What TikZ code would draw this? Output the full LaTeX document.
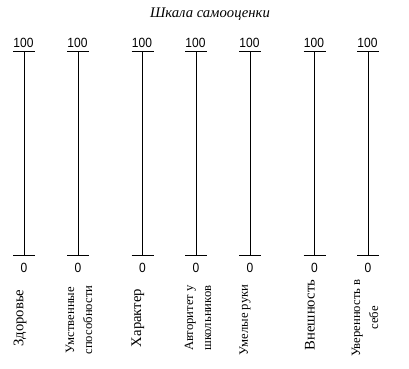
\documentclass[tikz,border=0pt]{standalone}
\usepackage{fontspec}
\setmainfont{Liberation Serif}
\newfontfamily\numfont[FakeStretch=0.9]{Liberation Sans}

\tikzset{every picture/.style={line width=0.75pt}}
\tikzset{
  scalemax/.style={inner sep=0.75pt, font=\numfont\fontsize{10}{12}\selectfont},
  scalemin/.style={inner sep=0.75pt, font=\numfont\fontsize{10}{12}\selectfont},
  biglbl/.style={inner sep=0.75pt, rotate=90, font=\fontsize{11}{13}\selectfont},
  smalllbl/.style={inner sep=0.75pt, rotate=90, align=center, font=\fontsize{9.5}{13.5}\selectfont},
}

\begin{document}
\begin{tikzpicture}[x=0.75pt,y=0.75pt,yscale=-1,xscale=1]
  \path[use as bounding box] (0,0) rectangle (409,368);

  %Title
  \draw (210,14) node [inner sep=0.75pt, font=\itshape\fontsize{11}{13}\selectfont] (title) {Шкала самооценки};

  %Scale 1
  \coordinate (top1) at (24,51.5);
  \coordinate (bot1) at (24,255);
  \draw (top1) -- (bot1);
  \draw (13,51.5) -- (35,51.5);
  \draw (13,255) -- (35,255);
  \draw (23.5,43) node [scalemax] (max1) {100};
  \draw (24,268) node [scalemin] (min1) {0};
  \draw (20,318) node [biglbl] (lab1) {Здоровье};

  %Scale 2
  \coordinate (top2) at (78,51.5);
  \coordinate (bot2) at (78,255);
  \draw (top2) -- (bot2);
  \draw (67,51.5) -- (89,51.5);
  \draw (67,255) -- (89,255);
  \draw (77.5,43) node [scalemax] (max2) {100};
  \draw (78,268) node [scalemin] (min2) {0};
  \draw (79,320) node [smalllbl] (lab2) {Умственные\\способности};

  %Scale 3
  \coordinate (top3) at (142.5,51.5);
  \coordinate (bot3) at (142.5,255);
  \draw (top3) -- (bot3);
  \draw (131.5,51.5) -- (153.5,51.5);
  \draw (131.5,255) -- (153.5,255);
  \draw (142,43) node [scalemax] (max3) {100};
  \draw (142.5,268) node [scalemin] (min3) {0};
  \draw (138,318) node [biglbl] (lab3) {Характер};

  %Scale 4
  \coordinate (top4) at (196,51.5);
  \coordinate (bot4) at (196,255);
  \draw (top4) -- (bot4);
  \draw (185,51.5) -- (207,51.5);
  \draw (185,255) -- (207,255);
  \draw (195.5,43) node [scalemax] (max4) {100};
  \draw (196,268) node [scalemin] (min4) {0};
  \draw (198,318) node [smalllbl] (lab4) {Авторитет у\\школьников};

  %Scale 5
  \coordinate (top5) at (250,51.5);
  \coordinate (bot5) at (250,255);
  \draw (top5) -- (bot5);
  \draw (239,51.5) -- (261,51.5);
  \draw (239,255) -- (261,255);
  \draw (249.5,43) node [scalemax] (max5) {100};
  \draw (250,268) node [scalemin] (min5) {0};
  \draw (245,320) node [smalllbl] (lab5) {Умелые руки};

  %Scale 6
  \coordinate (top6) at (314.5,51.5);
  \coordinate (bot6) at (314.5,255);
  \draw (top6) -- (bot6);
  \draw (303.5,51.5) -- (325.5,51.5);
  \draw (303.5,255) -- (325.5,255);
  \draw (314,43) node [scalemax] (max6) {100};
  \draw (314.5,268) node [scalemin] (min6) {0};
  \draw (310,315) node [biglbl] (lab6) {Внешность};

  %Scale 7
  \coordinate (top7) at (368,51.5);
  \coordinate (bot7) at (368,255);
  \draw (top7) -- (bot7);
  \draw (357,51.5) -- (379,51.5);
  \draw (357,255) -- (379,255);
  \draw (367.5,43) node [scalemax] (max7) {100};
  \draw (368,268) node [scalemin] (min7) {0};
  \draw (365,318) node [smalllbl] (lab7) {Уверенность в\\себе};

\end{tikzpicture}
\end{document}
